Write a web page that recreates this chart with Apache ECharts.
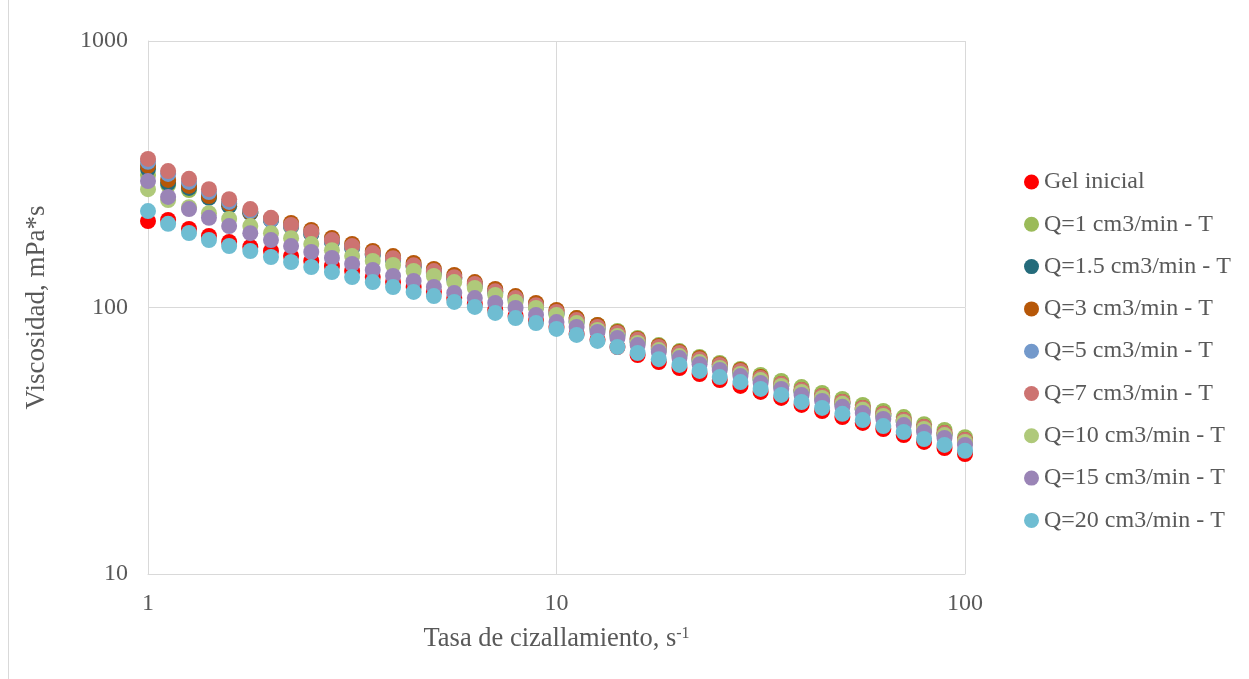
<!DOCTYPE html>
<html>
<head>
<meta charset="utf-8">
<script src="https://cdn.jsdelivr.net/npm/echarts@6/dist/echarts.min.js"></script>
<style>
html,body{margin:0;padding:0;background:#fff;}
#chart{width:1249px;height:679px;}
</style>
</head>
<body>
<div id="chart"></div>
<script>
// Shear rate (s^-1)
var shearRate = [1,1.12,1.26,1.41,1.58,1.78,2,2.24,2.51,2.82,3.16,3.55,3.98,4.47,5.01,5.62,6.31,7.08,7.94,8.91,10,11.2,12.6,14.1,15.8,17.8,20,22.4,25.1,28.2,31.6,35.5,39.8,44.7,50.1,56.2,63.1,70.8,79.4,89.1,100];

var seriesNames = ["Gel inicial","Q=1 cm3/min - T","Q=1.5 cm3/min - T","Q=3 cm3/min - T","Q=5 cm3/min - T","Q=7 cm3/min - T","Q=10 cm3/min - T","Q=15 cm3/min - T","Q=20 cm3/min - T"];

var gelInicial = [211,213,197,185.5,176.1,168.7,162.9,156.0,149.5,143.2,137.1,130.1,124.6,119.4,114.4,108.5,103.1,97.9,92.9,89.0,84.5,79.6,75.6,71.1,66.3,62.4,59.3,56.3,53.4,50.8,48.2,45.8,43.1,40.9,38.8,36.9,35.0,33.2,31.3,29.7,28.2];
var q1 = [314,288,276,260,245,228,213,200.5,188.7,177.7,168.7,158.8,152.0,143.2,137.1,130.1,122.5,115.4,109.5,103.1,97.0,91.3,86.0,81.7,76.9,72.3,68.6,65.2,61.9,58.8,55.8,53.0,50.3,47.8,45.4,43.1,40.9,38.8,36.5,34.7,32.6];
var q1_5 = [331,293,281,258,240,226,213,202,188.7,176.1,167.2,157.4,150.7,141.9,134.8,127.9,120.5,113.4,106.7,100.5,94.6,88.2,83.1,78.9,74.3,69.8,66.3,63.0,59.9,56.8,53.4,50.8,48.2,45.8,43.5,41.3,39.2,37.2,35.0,33.2,31.3];
var q3 = [340,301,286,262,245,228,215,207.5,195.4,182.3,173.1,162.9,156.0,146.9,139.5,132.4,124.6,117.4,110.4,104.0,97.9,91.3,86.0,81.0,76.2,71.7,68.1,64.6,61.3,58.3,54.8,51.6,49.0,46.6,44.2,42.0,39.9,37.8,35.6,33.8,31.8];
var q5 = [352,317,296,271,249,230,213,202.2,190.4,177.7,168.7,158.8,152.0,143.2,135.9,129.0,121.5,114.4,107.6,101.3,95.4,89.0,83.8,79.6,74.9,70.4,66.9,63.5,60.4,57.3,53.9,51.2,48.6,46.2,43.9,41.6,39.5,37.5,35.3,33.5,31.5];
var q7 = [361,325,304,278,255,234,217,204,192,179,170,160,153,144,137,130,122.5,115,108.5,102,96.2,89.7,84.5,80.3,75.6,71.1,67.5,64.0,60.9,57.8,54.4,51.6,49.0,46.6,44.2,42.0,39.9,37.8,35.6,33.8,31.8];
var q10 = [278,253,238,226,215,202,190,182,173,164,156,149.5,144.4,137.1,131.3,124.6,118.4,111.4,104.9,99.6,93.7,87.4,82.4,78.2,73.6,69.2,65.7,62.4,59.3,56.3,53.4,50.8,48.2,45.8,43.5,41.3,39.2,37.2,35.0,33.2,31.3];
var q15 = [298,260,234,217,202,190,179,170,161.5,153.4,145.6,138.3,131.3,125.7,119.4,113.4,108.5,104.0,99.6,93.7,88.2,84.5,81.0,76.9,72.3,68.1,64.6,61.3,58.3,55.3,52.1,49.5,47.0,44.6,42.4,40.2,38.2,36.2,34.1,32.4,30.5];
var q20 = [230,206,190.4,179.2,170.1,162.9,154.7,148.2,141.9,135.9,130.1,124.6,119.4,114.4,110.4,104.9,100.5,95.4,91.3,87.4,83.1,78.9,74.9,71.1,67.5,64.0,60.9,57.8,54.8,52.5,49.5,47.0,44.2,42.0,39.9,37.8,35.9,34.1,32.1,30.5,29.0];

var seriesColors = ["#FF0000","#9BBB59","#246B7B","#B65708","#7399CB","#CD7371","#AFC97A","#9A84B6","#6FBDD2"];

var xTicks = ["1","10","100"];
var yTicks = ["10","100","1000"];

var allValues = [gelInicial,q1,q1_5,q3,q5,q7,q10,q15,q20];

var FONT = '"Liberation Serif","Times New Roman",serif';
var TXT = '#595959';

var chart = echarts.init(document.getElementById('chart'), null, {renderer:'canvas'});

var series = allValues.map(function(vals, k){
  return {
    name: seriesNames[k],
    type: 'scatter',
    symbol: 'circle',
    symbolSize: 16,
    itemStyle: {color: seriesColors[k], opacity: 1},
    data: vals.map(function(v,i){ return [shearRate[i], v]; }),
    z: 2 + k
  };
});

chart.setOption({
  animation: false,
  backgroundColor: '#fff',
  grid: {left: 148, right: 284, top: 41, bottom: 105, containLabel: false},
  legend: {
    orient: 'vertical',
    left: 1019,
    top: 165,
    itemWidth: 15,
    itemHeight: 15,
    itemGap: 18.3,
    icon: 'circle',
    textStyle: {fontFamily: FONT, fontSize: 24, color: TXT, lineHeight: 23},
    data: seriesNames
  },
  xAxis: {
    type: 'log',
    logBase: 10,
    min: 1,
    max: 100,
    name: 'Tasa de cizallamiento, s{sup|-1}',
    nameLocation: 'middle',
    nameGap: 52,
    nameTextStyle: {
      fontFamily: FONT, fontSize: 26.5, color: TXT,
      rich: {sup: {fontFamily: FONT, fontSize: 16, color: TXT, verticalAlign: 'top', padding:[0,0,11,0]}}
    },
    axisLine: {show: true, lineStyle: {color: '#d9d9d9', width: 1}},
    axisTick: {show: false},
    axisLabel: {
      fontFamily: FONT, fontSize: 24, color: TXT, margin: 18,
      formatter: function(v){ var s = String(Math.round(v)); return xTicks.indexOf(s) >= 0 ? s : ''; }
    },
    splitLine: {show: true, lineStyle: {color: '#d9d9d9', width: 1}},
    minorTick: {show: false},
    minorSplitLine: {show: false}
  },
  yAxis: {
    type: 'log',
    logBase: 10,
    min: 10,
    max: 1000,
    name: 'Viscosidad, mPa*s',
    nameLocation: 'middle',
    nameGap: 98,
    nameRotate: 90,
    nameTextStyle: {fontFamily: FONT, fontSize: 27, color: TXT},
    axisLine: {show: true, lineStyle: {color: '#d9d9d9', width: 1}},
    axisTick: {show: false},
    axisLabel: {
      fontFamily: FONT, fontSize: 24, color: TXT, margin: 20,
      formatter: function(v){ var s = String(Math.round(v)); return yTicks.indexOf(s) >= 0 ? s : ''; }
    },
    splitLine: {show: true, lineStyle: {color: '#d9d9d9', width: 1}}
  },
  graphic: [{
    type: 'line',
    shape: {x1: 8.5, y1: 0, x2: 8.5, y2: 679},
    style: {stroke: '#d9d9d9', lineWidth: 1},
    silent: true
  }],
  series: series
});
</script>
</body>
</html>
